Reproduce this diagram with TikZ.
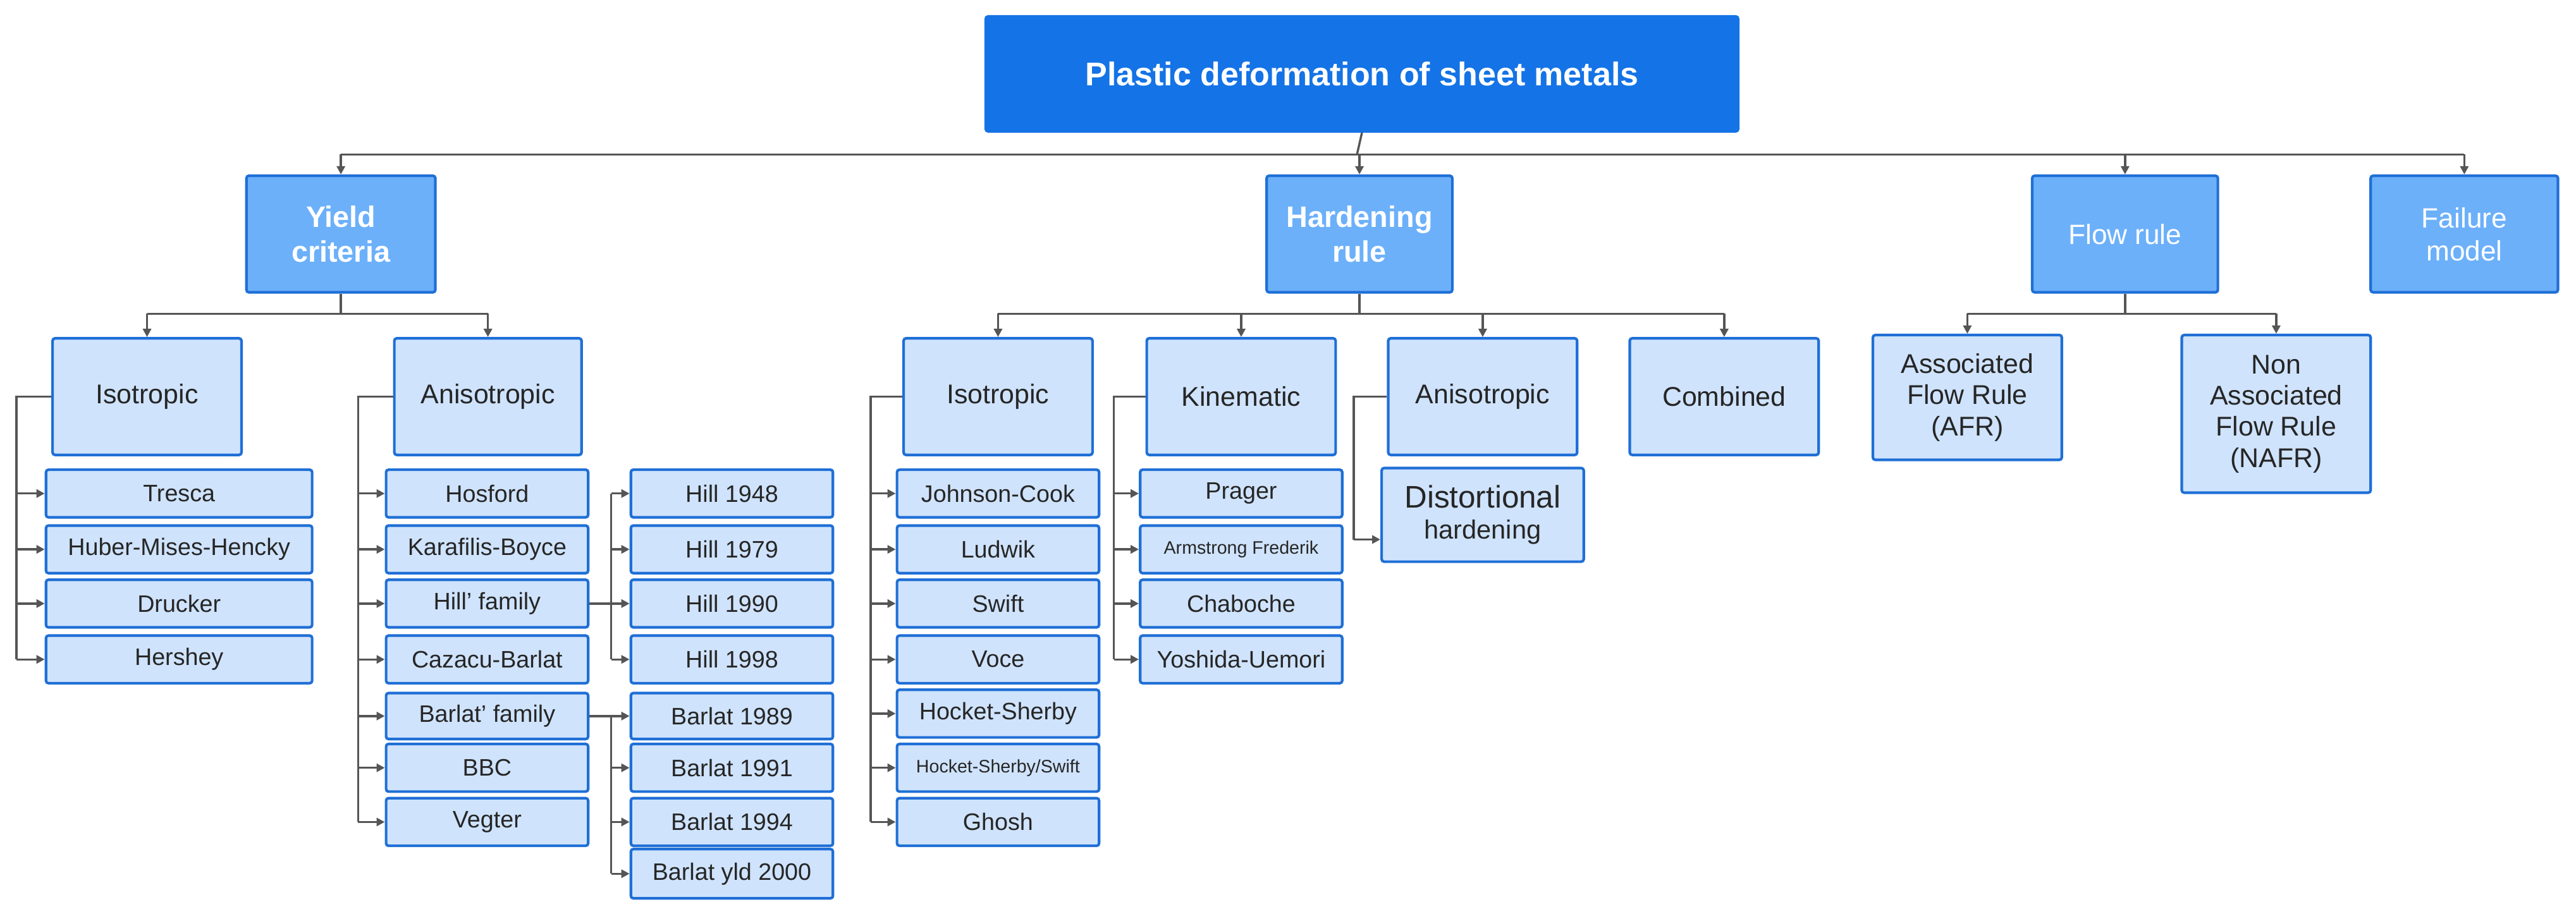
\documentclass[tikz,border=0pt]{standalone}
\usepackage{fontspec}
\setmainfont{Liberation Sans}
\usetikzlibrary{arrows.meta}
\definecolor{dk}{HTML}{1473E6}
\definecolor{bd}{HTML}{1F6FD6}
\definecolor{md}{HTML}{6CB0FA}
\definecolor{lt}{HTML}{CFE3FC}
\definecolor{ln}{HTML}{555555}
\newcommand\bx[7]{\node[#6, minimum width={(#4-#2)*1pt}, minimum height={(#5-#3)*1pt}] (#1) at ({(#2+#4)/2},{(#3+#5)/2}) {#7};}
\tikzset{
 base/.style={draw=bd, line width=1.6pt, rounded corners=1.5pt, inner sep=1pt, align=center},
 top/.style={base, fill=dk, draw=dk, text=white, font=\fontsize{20}{24}\selectfont\bfseries},
 l1/.style={base, fill=md, text=white, font=\fontsize{18}{21}\selectfont\bfseries},
 l1n/.style={base, fill=md, text=white, font=\fontsize{17}{20}\selectfont},
 l2/.style={base, fill=lt, text=black!85, font=\fontsize{16.5}{19}\selectfont},
 it/.style={base, fill=lt, text=black!85, font=\fontsize{14.5}{17}\selectfont},
 sm/.style={base, fill=lt, text=black!85, font=\fontsize{11}{13}\selectfont},
 ln/.style={draw=ln, line width=1.3pt},
 arr/.style={ln, -{Triangle[length=5pt,width=5pt]}},
}
\begin{document}
\begin{tikzpicture}[x=1pt,y=-1pt]
\useasboundingbox[fill=white] (0,0) rectangle (1568,556.5);
\bx{top}{600}{10}{1058}{80}{top}{Plastic deformation of sheet metals}
\bx{yc}{150}{107}{265}{178}{l1}{Yield\\criteria}
\bx{hr}{771}{107}{884}{178}{l1}{Hardening\\rule}
\bx{fr}{1237}{107}{1350}{178}{l1n}{Flow rule}
\bx{fm}{1443}{107}{1557}{178}{l1n}{Failure\\model}
\coordinate (h0) at (826,94);
\draw[ln] (top.south) -- (h0);
\draw[ln] (yc.north |- h0) -- (fm.north |- h0);
\foreach \n in {yc,hr,fr,fm} \draw[arr] (\n.north |- h0) -- (\n.north);
% yield children
\bx{yi}{32}{206}{147}{277}{l2}{Isotropic}
\bx{ya}{240}{206}{354}{277}{l2}{Anisotropic}
\coordinate (h1) at (0,191);
\draw[ln] (yc.south) -- (yc.south |- h1);
\draw[ln] (yi.north |- h1) -- (ya.north |- h1);
\foreach \n in {yi,ya} \draw[arr] (\n.north |- h1) -- (\n.north);
% isotropic list
\bx{t1}{28}{286}{190}{315}{it}{Tresca}
\bx{t2}{28}{320}{190}{349}{it}{Huber-Mises-Hencky}
\bx{t3}{28}{353}{190}{382}{it}{Drucker}
\bx{t4}{28}{387}{190}{416}{it}{Hershey}
\coordinate (s1) at (10,0);
\draw[ln] (yi.west) -- (yi.west -| s1) -- (t4.west -| s1);
\foreach \n in {t1,t2,t3,t4} \draw[arr] (\n.west -| s1) -- (\n.west);
% anisotropic list
\bx{a1}{235}{286}{358}{315}{it}{Hosford}
\bx{a2}{235}{320}{358}{349}{it}{Karafilis-Boyce}
\bx{a3}{235}{353}{358}{382}{it}{Hill' family}
\bx{a4}{235}{387}{358}{416}{it}{Cazacu-Barlat}
\bx{a5}{235}{422}{358}{450}{it}{Barlat' family}
\bx{a6}{235}{453}{358}{482}{it}{BBC}
\bx{a7}{235}{486}{358}{515}{it}{Vegter}
\coordinate (s2) at (218,0);
\draw[ln] (ya.west) -- (ya.west -| s2) -- (a7.west -| s2);
\foreach \n in {a1,a2,a3,a4,a5,a6,a7} \draw[arr] (\n.west -| s2) -- (\n.west);
% Hill
\bx{b1}{384}{286}{507}{315}{it}{Hill 1948}
\bx{b2}{384}{320}{507}{349}{it}{Hill 1979}
\bx{b3}{384}{353}{507}{382}{it}{Hill 1990}
\bx{b4}{384}{387}{507}{416}{it}{Hill 1998}
\coordinate (s3) at (372,0);
\draw[ln] (a3.east) -- (a3.east -| s3);
\draw[ln] (b1.west -| s3) -- (b4.west -| s3);
\foreach \n in {b1,b2,b3,b4} \draw[arr] (\n.west -| s3) -- (\n.west);
% Barlat
\bx{c1}{384}{422}{507}{450}{it}{Barlat 1989}
\bx{c2}{384}{453}{507}{482}{it}{Barlat 1991}
\bx{c3}{384}{486}{507}{515}{it}{Barlat 1994}
\bx{c4}{384}{517}{507}{547}{it}{Barlat yld 2000}
\draw[ln] (a5.east) -- (a5.east -| s3);
\draw[ln] (c1.west -| s3) -- (c4.west -| s3);
\foreach \n in {c1,c2,c3,c4} \draw[arr] (\n.west -| s3) -- (\n.west);
% hardening children
\bx{hi}{550}{206}{665}{277}{l2}{Isotropic}
\bx{hk}{698}{206}{813}{277}{l2}{Kinematic}
\bx{ha}{845}{206}{960}{277}{l2}{Anisotropic}
\bx{hc}{992}{206}{1107}{277}{l2}{Combined}
\draw[ln] (hr.south) -- (hr.south |- h1);
\draw[ln] (hi.north |- h1) -- (hc.north |- h1);
\foreach \n in {hi,hk,ha,hc} \draw[arr] (\n.north |- h1) -- (\n.north);
\bx{d1}{546}{286}{669}{315}{it}{Johnson-Cook}
\bx{d2}{546}{320}{669}{349}{it}{Ludwik}
\bx{d3}{546}{353}{669}{382}{it}{Swift}
\bx{d4}{546}{387}{669}{416}{it}{Voce}
\bx{d5}{546}{420}{669}{449}{it}{Hocket-Sherby}
\bx{d6}{546}{453}{669}{482}{sm}{Hocket-Sherby/Swift}
\bx{d7}{546}{486}{669}{515}{it}{Ghosh}
\coordinate (s4) at (530,0);
\draw[ln] (hi.west) -- (hi.west -| s4) -- (d7.west -| s4);
\foreach \n in {d1,d2,d3,d4,d5,d6,d7} \draw[arr] (\n.west -| s4) -- (\n.west);
\bx{k1}{694}{286}{817}{315}{it}{Prager}
\bx{k2}{694}{320}{817}{349}{sm}{Armstrong Frederik}
\bx{k3}{694}{353}{817}{382}{it}{Chaboche}
\bx{k4}{694}{387}{817}{416}{it}{Yoshida-Uemori}
\coordinate (s5) at (678,0);
\draw[ln] (hk.west) -- (hk.west -| s5) -- (k4.west -| s5);
\foreach \n in {k1,k2,k3,k4} \draw[arr] (\n.west -| s5) -- (\n.west);
\bx{dh}{841}{285}{964}{342}{base,fill=lt,text=black!85,font=\fontsize{16}{19}\selectfont}{{\fontsize{19}{22}\selectfont Distortional}\\hardening}
\coordinate (s6) at (824,0);
\draw[ln] (ha.west) -- (ha.west -| s6) -- ([yshift=-15pt]dh.west -| s6);
\draw[arr] ([yshift=-15pt]dh.west -| s6) -- ([yshift=-15pt]dh.west);
% flow rule
\bx{afr}{1140}{204}{1255}{280}{l2}{Associated\\Flow Rule\\(AFR)}
\bx{nafr}{1328}{204}{1443}{300}{l2}{Non\\Associated\\Flow Rule\\(NAFR)}
\draw[ln] (fr.south) -- (fr.south |- h1);
\draw[ln] (afr.north |- h1) -- (nafr.north |- h1);
\foreach \n in {afr,nafr} \draw[arr] (\n.north |- h1) -- (\n.north);
\end{tikzpicture}
\end{document}
